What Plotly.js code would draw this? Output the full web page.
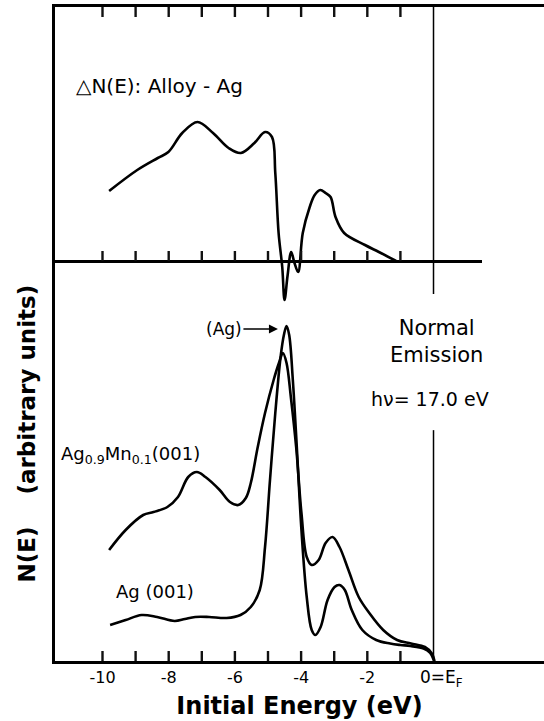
<!DOCTYPE html>
<html>
<head>
<meta charset="utf-8">
<script src="https://cdn.plot.ly/plotly-3.0.1.min.js"></script>
<style>html,body{margin:0;padding:0;background:#fff;}#chart{width:544px;height:721px;}</style>
</head>
<body>
<div id="chart"></div>
<script>
// Ag(001) spectrum: initial energy (eV) vs N(E) (arbitrary units)
const energyAg = [-9.77,-9.30,-8.82,-8.35,-7.82,-7.51,-7.20,-6.78,-6.25,-5.83,-5.52,-5.25,-5.09,-4.94,-4.78,-4.62,-4.52,-4.44,-4.36,-4.25,-4.13,-3.99,-3.83,-3.68,-3.57,-3.41,-3.20,-2.99,-2.84,-2.68,-2.47,-2.15,-1.73,-1.31,-1.00,-0.70,-0.30,-0.10,0.02];
const nAg      = [36,41,46,44,40,42,44,44,43,46,54,71,114,181,248,304,326,335,326,281,214,131,64,31,26,34,61,74,76,71,51,31,21,17.5,16,15,12.5,8,0];

// Ag0.9Mn0.1(001) alloy spectrum
const energyAlloy = [-9.80,-9.30,-8.77,-8.46,-8.04,-7.72,-7.41,-7.15,-6.89,-6.46,-6.15,-5.90,-5.67,-5.52,-5.31,-5.09,-4.83,-4.67,-4.55,-4.44,-4.31,-4.15,-3.99,-3.83,-3.68,-3.47,-3.26,-3.05,-2.84,-2.57,-2.26,-1.94,-1.52,-1.10,-0.68,-0.26,-0.05,0.03];
const nAlloy      = [111,131,146,149,154,164,184,189,184,171,159,156,163,178,214,248,281,298,308,298,264,214,148,104,96,101,118,124,114,91,64,48,31,21,17.5,14,7.5,0];

// Difference spectrum ΔN(E) = Alloy - Ag
const energyDiff = [-9.80,-8.95,-8.33,-8.01,-7.59,-7.13,-6.66,-6.19,-5.82,-5.41,-5.09,-4.88,-4.78,-4.68,-4.57,-4.50,-4.41,-4.30,-4.20,-4.09,-3.95,-3.74,-3.59,-3.42,-3.26,-3.11,-2.96,-2.70,-2.07,-1.65,-1.13];
const nDiff      = [70,91,103,109,128,139,128,113,108,118,129,124,88,28,-6,-39,-15,9,-2,-11,28,54,66,71,68,64,44,28,16,9,0];

// Axis ticks
const majorTicks = [-10,-8,-6,-4,-2];
const majorLabels = ['-10','-8','-6','-4','-2'];
const allTicks = [-10,-9,-8,-7,-6,-5,-4,-3,-2,-1];

const FONT = 'DejaVu Sans, Liberation Sans, sans-serif';
const lineStyle = {color:'#000', width:2.6, shape:'spline', smoothing:1.0};

const Y_MAX = 654;      // y axis span (1 unit per pixel of plot height)
const TICK_LEN = 10;    // tick mark length, px (= y units)

const traces = [
  {x: energyAlloy, y: nAlloy, type:'scatter', mode:'lines', line: lineStyle, name:'Ag0.9Mn0.1(001)', xaxis:'x', yaxis:'y'},
  {x: energyAg, y: nAg, type:'scatter', mode:'lines', line: lineStyle, name:'Ag(001)', xaxis:'x', yaxis:'y'},
  {x: energyDiff, y: nDiff, type:'scatter', mode:'lines', line: lineStyle, name:'ΔN(E)', xaxis:'x3', yaxis:'y2'}
];

const xMin = -11.435, xMax = 3.338;
const midDomainEnd = 0.8732;
const midXMax = xMin + midDomainEnd*(xMax - xMin);

// Tick marks as layout shapes at each tick value
const tickLine = {color:'#111', width:2.4};
const tickShapes = [];
allTicks.forEach(v => {
  tickShapes.push({type:'line', xref:'x', yref:'y', x0:v, x1:v, y0:0, y1:TICK_LEN, line:tickLine, layer:'above'});
  tickShapes.push({type:'line', xref:'x', yref:'y', x0:v, x1:v, y0:Y_MAX, y1:Y_MAX-TICK_LEN, line:tickLine, layer:'above'});
  tickShapes.push({type:'line', xref:'x3', yref:'y2', x0:v, x1:v, y0:0, y1:TICK_LEN, line:tickLine, layer:'above'});
});

const layout = {
  width:544, height:721,
  margin:{l:55, r:0, t:7, b:60},
  paper_bgcolor:'#fff', plot_bgcolor:'rgba(0,0,0,0)',
  showlegend:false,
  font:{family:FONT, color:'#000'},
  xaxis:{
    range:[xMin, xMax], showline:true, linecolor:'#000', linewidth:2.5, mirror:true,
    ticks:'', tickmode:'array', tickvals: majorTicks, ticktext: majorLabels,
    tickfont:{size:16, family:FONT},
    showgrid:false, zeroline:false,
    title:{text:'Initial Energy (eV)', font:{size:24, family:FONT, weight:'bold'}, standoff:12}
  },
  yaxis:{
    range:[0, Y_MAX], showline:true, linecolor:'#000', linewidth:2.5, ticks:'', showticklabels:false,
    showgrid:false, zeroline:false
  },
  xaxis3:{
    domain:[0, midDomainEnd], range:[xMin, midXMax], anchor:'free', position:0.6116,
    showline:true, linecolor:'#000', linewidth:2.5, ticks:'', showticklabels:false,
    showgrid:false, zeroline:false
  },
  yaxis2:{domain:[0,1], range:[-400, Y_MAX-400], anchor:'x3', visible:false},
  shapes:[
    {type:'line', xref:'x', yref:'paper', x0:0, x1:0, y0:0.561, y1:1, line:{color:'#000', width:1.5}},
    {type:'line', xref:'x', yref:'paper', x0:0, x1:0, y0:0, y1:0.353, line:{color:'#000', width:1.5}}
  ].concat(tickShapes),
  annotations:[
    {text:'N(E)\u00a0\u00a0\u00a0\u00a0(arbitrary units)', textangle:-90, xref:'paper', yref:'paper', x:-0.057, y:0.348, xanchor:'center', yanchor:'middle', showarrow:false, font:{size:23, family:FONT, weight:'bold'}},
    {text:'\u25B3N(E): Alloy - Ag', x:-10.85, y:575, xref:'x', yref:'y', xanchor:'left', yanchor:'middle', showarrow:false, font:{size:20, family:FONT}},
    {text:'(Ag)', x:-4.67, y:332, xref:'x', yref:'y', showarrow:true, ax:-55, ay:0, arrowhead:2, arrowsize:1.2, arrowwidth:1.5, arrowcolor:'#000', standoff:1, font:{size:17, family:FONT}},
    {text:'Normal<br>Emission', x:0.1, y:320, xref:'x', yref:'y', showarrow:false, font:{size:21, family:FONT}},
    {text:'h\u03bd= 17.0 eV', x:-0.1, y:262, xref:'x', yref:'y', showarrow:false, font:{size:19, family:FONT}},
    {text:'Ag<sub>0.9</sub>Mn<sub>0.1</sub>(001)', x:-11.30, y:206, xref:'x', yref:'y', xanchor:'left', yanchor:'middle', showarrow:false, font:{size:18, family:FONT}},
    {text:'Ag (001)', x:-8.41, y:70, xref:'x', yref:'y', showarrow:false, font:{size:18, family:FONT}},
    {text:'0=E<sub>F</sub>', x:-0.47, y:-0.0275, xref:'x', yref:'paper', xanchor:'left', yanchor:'middle', showarrow:false, font:{size:17, family:FONT}}
  ]
};

Plotly.newPlot('chart', traces, layout, {displayModeBar:false});
</script>
</body>
</html>
